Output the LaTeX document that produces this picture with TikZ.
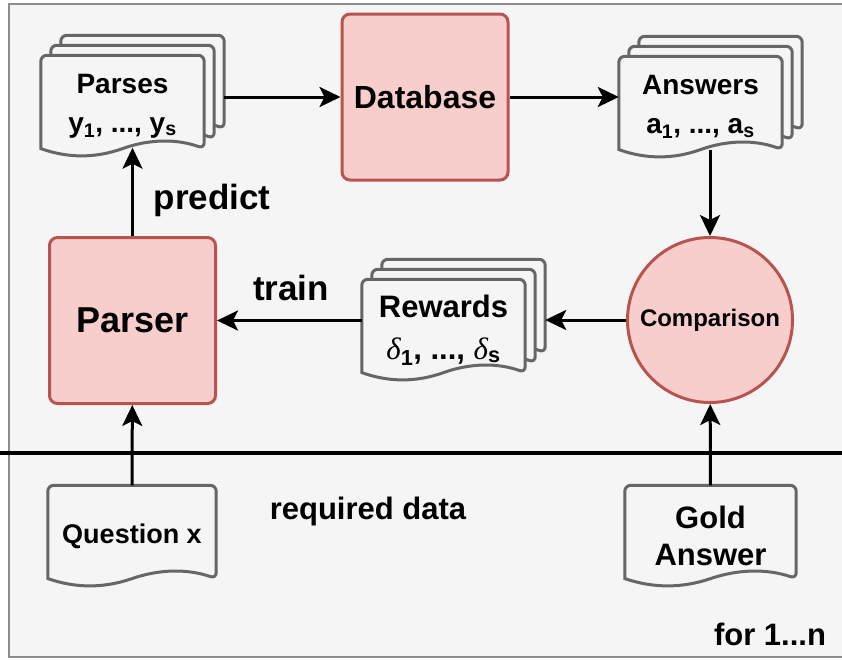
\documentclass[tikz,border=0pt]{standalone}
\usepackage{fontspec}
\setmainfont{Liberation Sans}
\newfontfamily\greekfont{Liberation Serif}
\usetikzlibrary{arrows.meta,calc,backgrounds}
\definecolor{paneback}{HTML}{F5F5F5}
\definecolor{paneframe}{HTML}{8C8C8C}
\definecolor{docgray}{HTML}{666666}
\definecolor{rosefill}{HTML}{F8CECC}
\definecolor{roseline}{HTML}{B85450}
\newcommand{\dlt}{{\greekfont\mdseries\itshape δ}}

% wavy document outline round a node (optional offset for the stacked copies)
\newcommand{\docoutline}[2][0]{%
  \path[docline] let \p1=($(#2.north west)+(#1,-#1)$), \p2=($(#2.south east)+(#1,-#1)$),
      \n1={\x2-\x1}, \n2={0.16*(\y1-\y2)} in
    (\x1,\y2+0.5*\n2) [rounded corners=6pt] -- (\x1,\y1) -- (\x2,\y1) -- (\x2,\y2+0.5*\n2) [sharp corners]
    .. controls (\x2-\n1/6,\y2+1.1*\n2) and (\x1+2*\n1/3,\y2+1.1*\n2) .. (\x1+\n1/2,\y2+0.5*\n2)
    .. controls (\x1+\n1/3,\y2-0.1*\n2) and (\x1+\n1/6,\y2-0.1*\n2) .. (\x1,\y2+0.5*\n2) -- cycle;}

\begin{document}
\begin{tikzpicture}[x=1pt,y=-1pt,
    txt/.style 2 args={font={\fontsize{#1}{#2}\selectfont\bfseries}},
    flow/.style={line width=3pt,-{Stealth[length=21pt,width=20pt,inset=5pt]}},
    docline/.style={draw=docgray,line width=3pt,fill=paneback},
    doc/.style={minimum width=163pt,minimum height=101pt,inner sep=0pt,align=center},
    stage/.style={draw=roseline,fill=rosefill,line width=3pt,rounded corners=8pt,
      minimum width=166pt,minimum height=166pt,inner sep=0pt}]
  \useasboundingbox (0,0) rectangle (842,659);

  % boxes
  \node[doc,txt={28}{39}] (parses) at (122.5,106) {Parses\\y\textsubscript{1}, ..., y\textsubscript{s}};
  \node[stage,txt={32}{36}] (database) at (425,97) {Database};
  \node[doc,txt={28}{39}] (answers) at (700.5,107) {Answers\\a\textsubscript{1}, ..., a\textsubscript{s}};
  \node[stage,txt={36}{40}] (parser) at (132.5,320.5) {Parser};
  \node[doc,txt={31}{42}] (rewards) at (443.5,330) {Rewards\\\dlt\textsubscript{1}, ..., \dlt\textsubscript{s}};
  \node[circle,draw=roseline,fill=rosefill,line width=3pt,minimum size=165pt,inner sep=0pt,txt={24}{28}] (comparison) at (710,320) {Comparison};
  \node[doc,minimum width=168pt,txt={27}{30}] (question) at (132,536) {Question x};
  \node[doc,minimum width=171pt,txt={31}{37}] (gold) at (710.5,536) {Gold\\Answer};

  % labels
  \node[txt={35}{40}] (predict) at (212,200) {predict};
  \node[txt={35}{40}] (train) at (291,288) {train};
  \node[txt={31}{36}] (required) at (368,511) {required data};
  \node[txt={31}{36}] (loop) at (770,634) {for 1...n};

  \begin{scope}[on background layer]
    \fill[paneback] (9,4) rectangle (842,657);
    \draw[paneframe,line width=1.5pt] (842,4) -- (9,4) -- (9,657) -- (842,657);
    \foreach \doc in {parses,answers,rewards}
      \foreach \s in {20,10}
        \docoutline[\s]{\doc};
    \foreach \doc in {parses,answers,rewards,question,gold}
      \docoutline{\doc};
  \end{scope}

  \draw[line width=4pt] (0,453) -- (842,453);

  % connectors
  \draw[flow] (parser) -- ($(parser.north |- parses.south)+(0,-9)$);
  \draw[flow] ($(parses.east |- database.west)+(20,0)$) -- (database);
  \draw[flow] (database) -- (database -| answers.west);
  \draw[flow] ($(comparison.north |- answers.south)+(0,-8)$) -- (comparison);
  \draw[flow] (comparison) -- ($(rewards.east |- comparison)+(20,0)$);
  \draw[flow] (rewards.west |- parser) -- (parser);
  \draw[flow] (question) -- (parser);
  \draw[flow] (gold) -- (comparison);
\end{tikzpicture}
\end{document}
